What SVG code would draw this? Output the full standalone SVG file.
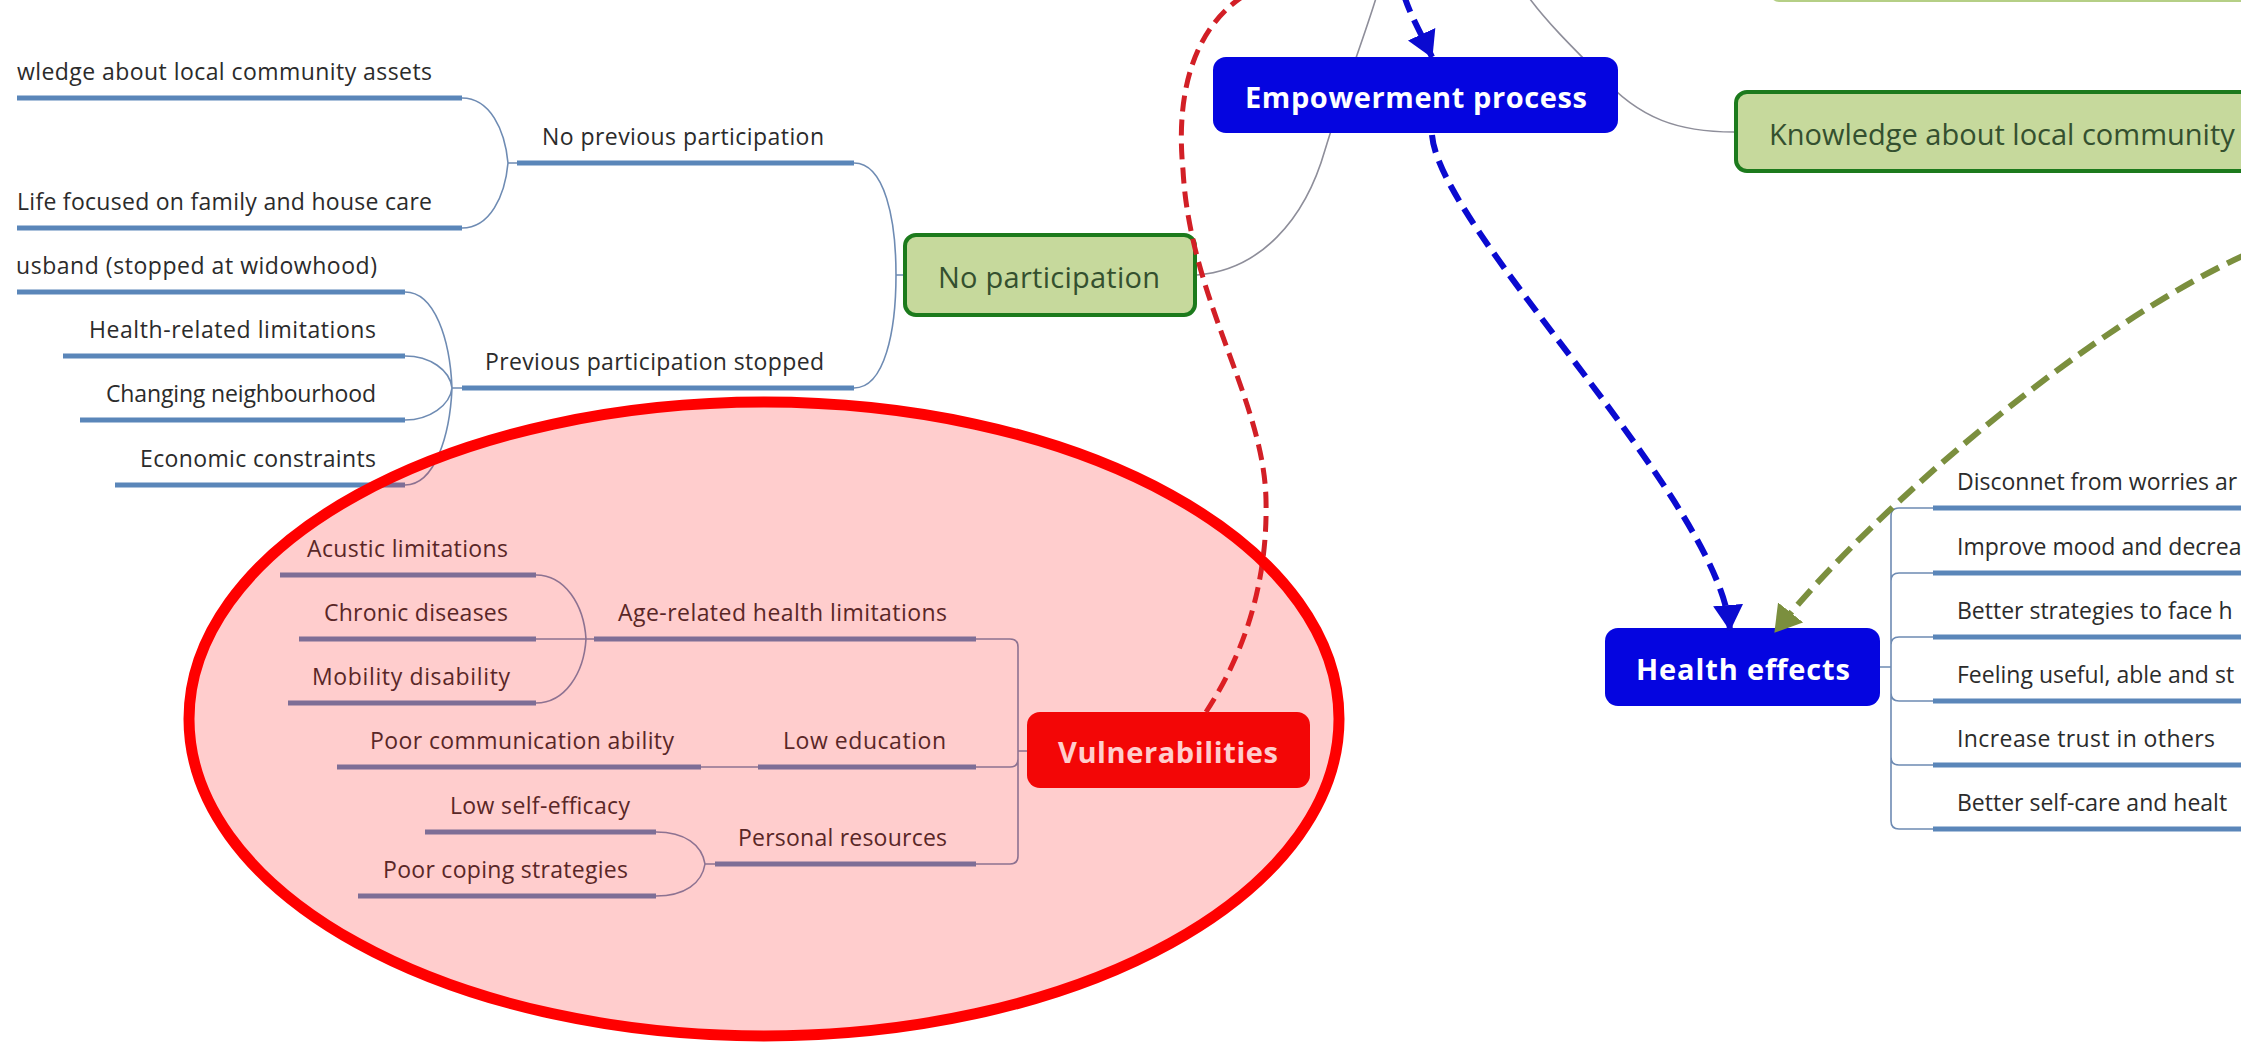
<svg xmlns="http://www.w3.org/2000/svg" width="2241" height="1044" viewBox="0 0 2241 1044">
<style>
.ul{stroke:#5a86b9;stroke-width:5;fill:none}
.lk{fill:none;stroke:#6e8bb3;stroke-width:1.6}
.root{fill:none;stroke:#8e8e9a;stroke-width:1.6}
.t{font-family:"Open Sans","DejaVu Sans",sans-serif;font-size:23px;fill:#2b2b2b}
.gt{font-family:"Open Sans","DejaVu Sans",sans-serif;font-size:29px;fill:#34502f}
.bt{font-family:"Open Sans","DejaVu Sans",sans-serif;font-size:29px;font-weight:700;fill:#ffffff}
.gbox{fill:#c6d99c;stroke:#1c7a1c;stroke-width:4}
.bbox{fill:#0505e0}
.rbox{fill:#f00000}
.dblue{fill:none;stroke:#0a0ad0;stroke-width:6;stroke-dasharray:18 9}
.dred{fill:none;stroke:#d21f26;stroke-width:5;stroke-dasharray:16 8}
.dgreen{fill:none;stroke:#7b8f3e;stroke-width:6;stroke-dasharray:20 9}
</style>
<defs>
<marker id="ahBlue" markerUnits="userSpaceOnUse" viewBox="0 0 26 30" refX="25" refY="15" markerWidth="26" markerHeight="30" orient="auto"><path d="M0,0 L26,15 L0,30 z" fill="#0a0ad0"/></marker>
<marker id="ahGreen" markerUnits="userSpaceOnUse" viewBox="0 0 26 32" refX="25" refY="16" markerWidth="26" markerHeight="32" orient="auto"><path d="M0,0 L26,16 L0,32 z" fill="#7b8f3e"/></marker>
</defs>
<rect x="0" y="0" width="2241" height="1044" fill="#ffffff"/>

<g id="connectors">
<path class="root" d="M1197,275 C1260,270 1305,220 1325,150 C1340,100 1360,50 1377,-5"/>
<path class="root" d="M1734,132 C1680,132 1640,120 1600,75 C1570,45 1545,20 1527,-5"/>
<path class="lk" d="M905,275 L896,275 M854,163 C885,163 896,220 896,275 C896,330 885,388 854,388"/>
<path class="lk" d="M517,163 L508,163 M462,98 C490,98 505,130 508,163 C505,196 490,228 462,228"/>
<path class="lk" d="M462,388 L452,388 M405,292 C435,292 450,340 452,388 M405,356 C430,356 450,370 452,388 M405,420 C430,420 450,405 452,388 M405,485 C435,485 450,435 452,388"/>
<path class="lk" d="M1027,751 L1018,751 M976,639 L1010,639 Q1018,639 1018,647 L1018,856 Q1018,864 1010,864 L976,864 M976,767 L1010,767 Q1018,767 1018,759"/>
<path class="lk" d="M594,639 L536,639 M536,575 C565,575 584,605 586,639 C584,673 565,703 536,703"/>
<path class="lk" d="M758,767 L701,767"/>
<path class="lk" d="M715,864 L705,864 M656,832 C685,832 702,845 705,864 C702,883 685,896 656,896"/>
<path class="lk" d="M1880,667 L1891,667 M1891,516 L1891,821 M1933,508 L1899,508 Q1891,508 1891,516 M1933,573 L1899,573 Q1891,573 1891,581 M1933,637 L1899,637 Q1891,637 1891,645 M1933,701 L1899,701 Q1891,701 1891,693 M1933,765 L1899,765 Q1891,765 1891,757 M1933,829 L1899,829 Q1891,829 1891,821"/>
</g>

<g id="node-top-green"><rect x="1771" y="-50" width="520" height="51" rx="8" fill="#d2e2a8" stroke="#b5cf86" stroke-width="2"/></g>

<g id="node-empowerment">
<rect class="bbox" x="1213" y="57" width="405" height="76" rx="13"/>
<text class="bt" x="1245" y="108" textLength="342">Empowerment process</text>
</g>
<g id="node-knowledge">
<rect class="gbox" x="1736" y="92" width="560" height="79" rx="11"/>
<text class="gt" x="1769" y="145">Knowledge about local community</text>
</g>
<g id="node-no-participation">
<rect class="gbox" x="905" y="235" width="290" height="80" rx="11"/>
<text class="gt" x="938" y="288" textLength="222">No participation</text>
</g>
<g id="node-no-previous">
<line class="ul" x1="517" y1="163" x2="854" y2="163"/>
<text class="t" x="542" y="145" textLength="282">No previous participation</text>
</g>
<g id="node-knowledge-assets">
<line class="ul" x1="17" y1="98" x2="462" y2="98"/>
<text class="t" x="17" y="80" textLength="415">wledge about local community assets</text>
</g>
<g id="node-life-focused">
<line class="ul" x1="17" y1="228" x2="462" y2="228"/>
<text class="t" x="17" y="210" textLength="415">Life focused on family and house care</text>
</g>
<g id="node-previous-stopped">
<line class="ul" x1="462" y1="388" x2="854" y2="388"/>
<text class="t" x="485" y="370" textLength="339">Previous participation stopped</text>
</g>
<g id="node-husband">
<line class="ul" x1="17" y1="292" x2="405" y2="292"/>
<text class="t" x="16" y="274" textLength="361">usband (stopped at widowhood)</text>
</g>
<g id="node-health-related">
<line class="ul" x1="63" y1="356" x2="405" y2="356"/>
<text class="t" x="89" y="338" textLength="287">Health-related limitations</text>
</g>
<g id="node-changing">
<line class="ul" x1="80" y1="420" x2="405" y2="420"/>
<text class="t" x="106" y="402" textLength="270">Changing neighbourhood</text>
</g>
<g id="node-economic">
<line class="ul" x1="115" y1="485" x2="405" y2="485"/>
<text class="t" x="140" y="467" textLength="236">Economic constraints</text>
</g>

<g id="node-vulnerabilities">
<rect class="rbox" x="1027" y="712" width="283" height="76" rx="13"/>
<text class="bt" x="1058" y="763" textLength="220">Vulnerabilities</text>
</g>
<g id="node-age-related">
<line class="ul" x1="594" y1="639" x2="976" y2="639"/>
<text class="t" x="618" y="621" textLength="329">Age-related health limitations</text>
</g>
<g id="node-acustic">
<line class="ul" x1="280" y1="575" x2="536" y2="575"/>
<text class="t" x="307" y="557" textLength="201">Acustic limitations</text>
</g>
<g id="node-chronic">
<line class="ul" x1="299" y1="639" x2="536" y2="639"/>
<text class="t" x="324" y="621" textLength="184">Chronic diseases</text>
</g>
<g id="node-mobility">
<line class="ul" x1="288" y1="703" x2="536" y2="703"/>
<text class="t" x="312" y="685" textLength="198">Mobility disability</text>
</g>
<g id="node-low-education">
<line class="ul" x1="758" y1="767" x2="976" y2="767"/>
<text class="t" x="783" y="749" textLength="163">Low education</text>
</g>
<g id="node-poor-communication">
<line class="ul" x1="337" y1="767" x2="701" y2="767"/>
<text class="t" x="370" y="749" textLength="304">Poor communication ability</text>
</g>
<g id="node-personal-resources">
<line class="ul" x1="715" y1="864" x2="976" y2="864"/>
<text class="t" x="738" y="846" textLength="209">Personal resources</text>
</g>
<g id="node-low-self-efficacy">
<line class="ul" x1="425" y1="832" x2="656" y2="832"/>
<text class="t" x="450" y="814" textLength="180">Low self-efficacy</text>
</g>
<g id="node-poor-coping">
<line class="ul" x1="358" y1="896" x2="656" y2="896"/>
<text class="t" x="383" y="878" textLength="245">Poor coping strategies</text>
</g>

<g id="node-health-effects">
<rect class="bbox" x="1605" y="628" width="275" height="78" rx="13"/>
<text class="bt" x="1636" y="680" textLength="214">Health effects</text>
</g>
<g id="node-he-1"><line class="ul" x1="1933" y1="508" x2="2245" y2="508"/><text class="t" x="1957" y="490">Disconnet from worries ar</text></g>
<g id="node-he-2"><line class="ul" x1="1933" y1="573" x2="2245" y2="573"/><text class="t" x="1957" y="555">Improve mood and decrea</text></g>
<g id="node-he-3"><line class="ul" x1="1933" y1="637" x2="2245" y2="637"/><text class="t" x="1957" y="619">Better strategies to face h</text></g>
<g id="node-he-4"><line class="ul" x1="1933" y1="701" x2="2245" y2="701"/><text class="t" x="1957" y="683">Feeling useful, able and st</text></g>
<g id="node-he-5"><line class="ul" x1="1933" y1="765" x2="2245" y2="765"/><text class="t" x="1957" y="747" textLength="258">Increase trust in others</text></g>
<g id="node-he-6"><line class="ul" x1="1933" y1="829" x2="2245" y2="829"/><text class="t" x="1957" y="811">Better self-care and healt</text></g>

<g id="relations">
<path class="dblue" d="M1404,-5 C1410,15 1422,35 1432,57" marker-end="url(#ahBlue)"/>
<path class="dblue" d="M1432,135 C1440,230 1720,500 1730,630" marker-end="url(#ahBlue)"/>
<path class="dgreen" d="M2245,255 C2100,320 1880,500 1775,632" marker-end="url(#ahGreen)"/>
<path class="dred" d="M1206,712 C1240,660 1268,590 1266,500 C1264,400 1190,300 1183,170 C1176,100 1190,30 1245,-5"/>
</g>

<g id="highlight-ellipse">
<ellipse cx="764" cy="719" rx="575" ry="317" fill="#ff1a1a" fill-opacity="0.22" stroke="#ff0000" stroke-width="11"/>
</g>
</svg>
